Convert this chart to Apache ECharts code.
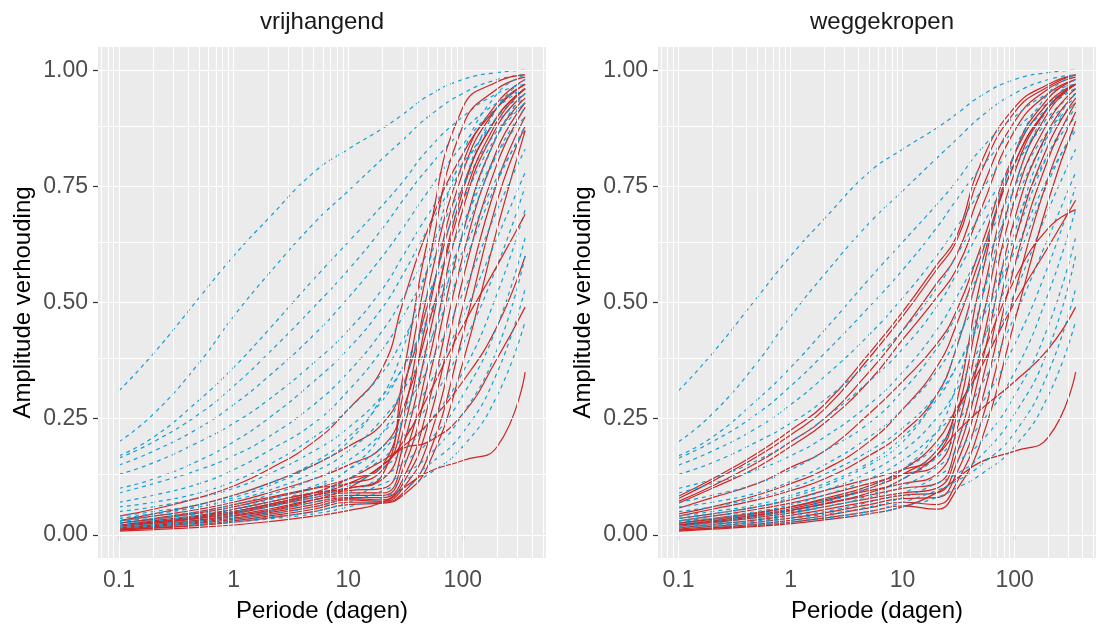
<!DOCTYPE html>
<html>
<head>
<meta charset="utf-8">
<script src="https://cdn.jsdelivr.net/npm/echarts@6/dist/echarts.min.js"></script>
<style>
  html, body { margin: 0; background: #fff; }
  #main { width: 1096px; height: 628px; }
</style>
</head>
<body>
<div id="main"></div>
<script>
const perioden = [0.1, 0.2, 0.5, 1, 2, 5, 10, 20, 30, 50, 100, 200, 350];

// blauwe (gestippelde) curves, gelijk in beide panelen
const blauw = [
  [0.31, 0.39, 0.51, 0.60, 0.68, 0.78, 0.83, 0.875, 0.905, 0.945, 0.98, 0.995, 1.0],
  [0.20, 0.26, 0.37, 0.47, 0.56, 0.67, 0.74, 0.81, 0.85, 0.90, 0.95, 0.98, 0.99],
  [0.17, 0.21, 0.29, 0.36, 0.44, 0.55, 0.63, 0.71, 0.76, 0.83, 0.90, 0.95, 0.97],
  [0.165, 0.20, 0.26, 0.32, 0.39, 0.49, 0.57, 0.66, 0.72, 0.79, 0.87, 0.93, 0.96],
  [0.15, 0.18, 0.23, 0.28, 0.34, 0.43, 0.51, 0.60, 0.66, 0.74, 0.84, 0.92, 0.96],
  [0.13, 0.155, 0.20, 0.24, 0.29, 0.37, 0.44, 0.53, 0.60, 0.69, 0.80, 0.89, 0.94],
  [0.10, 0.12, 0.16, 0.20, 0.25, 0.33, 0.40, 0.49, 0.56, 0.66, 0.79, 0.90, 0.95],
  [0.09, 0.11, 0.14, 0.17, 0.21, 0.28, 0.35, 0.44, 0.51, 0.61, 0.75, 0.87, 0.93],
  [0.07, 0.085, 0.11, 0.14, 0.18, 0.24, 0.31, 0.40, 0.47, 0.57, 0.72, 0.86, 0.93],
  [0.06, 0.07, 0.09, 0.115, 0.15, 0.21, 0.27, 0.35, 0.42, 0.52, 0.67, 0.82, 0.90],
  [0.05, 0.06, 0.08, 0.10, 0.13, 0.18, 0.23, 0.30, 0.36, 0.46, 0.61, 0.77, 0.87],
  [0.04, 0.05, 0.065, 0.085, 0.11, 0.155, 0.21, 0.29, 0.36, 0.47, 0.64, 0.82, 0.92],
  [0.035, 0.045, 0.06, 0.075, 0.095, 0.135, 0.18, 0.25, 0.31, 0.41, 0.58, 0.76, 0.88],
  [0.03, 0.04, 0.05, 0.065, 0.085, 0.12, 0.16, 0.22, 0.27, 0.36, 0.52, 0.70, 0.83],
  [0.03, 0.035, 0.045, 0.06, 0.075, 0.105, 0.14, 0.19, 0.24, 0.32, 0.47, 0.64, 0.78],
  [0.025, 0.03, 0.04, 0.05, 0.065, 0.09, 0.12, 0.165, 0.21, 0.28, 0.41, 0.58, 0.75],
  [0.025, 0.03, 0.035, 0.045, 0.06, 0.08, 0.105, 0.145, 0.18, 0.24, 0.35, 0.52, 0.70],
  [0.02, 0.025, 0.03, 0.04, 0.05, 0.07, 0.09, 0.125, 0.155, 0.20, 0.30, 0.45, 0.64],
  [0.02, 0.022, 0.028, 0.035, 0.044, 0.06, 0.08, 0.11, 0.13, 0.17, 0.26, 0.40, 0.60],
  [0.018, 0.02, 0.025, 0.03, 0.038, 0.05, 0.07, 0.095, 0.115, 0.15, 0.22, 0.35, 0.53],
  [0.015, 0.018, 0.022, 0.027, 0.034, 0.045, 0.06, 0.08, 0.10, 0.13, 0.19, 0.30, 0.46],
  [0.03, 0.035, 0.045, 0.055, 0.07, 0.10, 0.14, 0.22, 0.32, 0.50, 0.75, 0.92, 0.98],
  [0.025, 0.03, 0.04, 0.05, 0.06, 0.085, 0.12, 0.18, 0.25, 0.40, 0.65, 0.86, 0.95],
  [0.035, 0.045, 0.06, 0.08, 0.105, 0.15, 0.20, 0.30, 0.40, 0.58, 0.82, 0.95, 0.99]
];

// rode curves, paneel "vrijhangend"
const roodVrijhangend = [
  [0.04, 0.055, 0.08, 0.105, 0.14, 0.20, 0.27, 0.36, 0.50, 0.66, 0.82, 0.92, 0.97],
  [0.03, 0.045, 0.065, 0.085, 0.11, 0.15, 0.19, 0.24, 0.32, 0.50, 0.75, 0.90, 0.96],
  [0.025, 0.035, 0.05, 0.065, 0.08, 0.10, 0.11, 0.14, 0.25, 0.53, 0.80, 0.93, 0.98],
  [0.02, 0.03, 0.04, 0.055, 0.07, 0.09, 0.10, 0.12, 0.22, 0.48, 0.78, 0.92, 0.97],
  [0.02, 0.028, 0.04, 0.05, 0.065, 0.085, 0.095, 0.10, 0.19, 0.42, 0.74, 0.90, 0.96],
  [0.018, 0.025, 0.035, 0.045, 0.06, 0.08, 0.09, 0.09, 0.16, 0.37, 0.70, 0.88, 0.95],
  [0.015, 0.022, 0.032, 0.042, 0.055, 0.075, 0.085, 0.085, 0.14, 0.33, 0.65, 0.86, 0.94],
  [0.015, 0.02, 0.03, 0.04, 0.05, 0.07, 0.08, 0.08, 0.12, 0.28, 0.60, 0.83, 0.93],
  [0.012, 0.018, 0.027, 0.036, 0.047, 0.065, 0.078, 0.075, 0.11, 0.24, 0.55, 0.80, 0.92],
  [0.012, 0.017, 0.025, 0.033, 0.044, 0.06, 0.075, 0.072, 0.10, 0.20, 0.49, 0.76, 0.90],
  [0.01, 0.015, 0.022, 0.03, 0.04, 0.055, 0.07, 0.07, 0.09, 0.17, 0.43, 0.72, 0.88],
  [0.01, 0.014, 0.02, 0.027, 0.036, 0.05, 0.065, 0.068, 0.085, 0.15, 0.37, 0.66, 0.87],
  [0.03, 0.04, 0.055, 0.07, 0.09, 0.12, 0.15, 0.19, 0.27, 0.45, 0.72, 0.89, 0.96],
  [0.025, 0.033, 0.047, 0.06, 0.077, 0.10, 0.12, 0.15, 0.30, 0.58, 0.88, 0.96, 0.985],
  [0.02, 0.03, 0.042, 0.055, 0.07, 0.09, 0.10, 0.13, 0.34, 0.64, 0.92, 0.975, 0.99],
  [0.008, 0.011, 0.016, 0.021, 0.028, 0.04, 0.052, 0.07, 0.10, 0.135, 0.16, 0.19, 0.35],
  [0.015, 0.02, 0.03, 0.04, 0.052, 0.075, 0.10, 0.15, 0.186, 0.20, 0.26, 0.38, 0.49],
  [0.02, 0.027, 0.038, 0.05, 0.065, 0.09, 0.12, 0.16, 0.19, 0.24, 0.33, 0.45, 0.60],
  [0.018, 0.025, 0.036, 0.047, 0.062, 0.085, 0.11, 0.15, 0.20, 0.30, 0.45, 0.58, 0.69]
];

// rode curves, paneel "weggekropen"
const roodWeggekropen = [
  [0.083, 0.12, 0.175, 0.225, 0.28, 0.39, 0.48, 0.58, 0.64, 0.80, 0.92, 0.97, 0.99],
  [0.078, 0.115, 0.168, 0.215, 0.27, 0.38, 0.47, 0.57, 0.63, 0.78, 0.91, 0.965, 0.99],
  [0.072, 0.105, 0.155, 0.20, 0.25, 0.35, 0.44, 0.54, 0.60, 0.74, 0.89, 0.96, 0.985],
  [0.068, 0.10, 0.145, 0.19, 0.24, 0.33, 0.42, 0.51, 0.57, 0.70, 0.87, 0.95, 0.98],
  [0.057, 0.08, 0.11, 0.145, 0.18, 0.26, 0.33, 0.41, 0.48, 0.62, 0.82, 0.93, 0.97],
  [0.045, 0.06, 0.085, 0.11, 0.14, 0.20, 0.27, 0.36, 0.45, 0.60, 0.80, 0.92, 0.97],
  [0.04, 0.055, 0.075, 0.095, 0.12, 0.17, 0.22, 0.30, 0.40, 0.58, 0.80, 0.92, 0.97],
  [0.035, 0.045, 0.06, 0.075, 0.095, 0.12, 0.14, 0.17, 0.28, 0.55, 0.82, 0.94, 0.98],
  [0.03, 0.04, 0.055, 0.068, 0.085, 0.11, 0.13, 0.15, 0.25, 0.50, 0.78, 0.92, 0.97],
  [0.025, 0.035, 0.048, 0.06, 0.075, 0.095, 0.11, 0.13, 0.22, 0.45, 0.75, 0.91, 0.97],
  [0.02, 0.03, 0.042, 0.053, 0.066, 0.085, 0.10, 0.11, 0.19, 0.40, 0.72, 0.89, 0.96],
  [0.018, 0.026, 0.037, 0.047, 0.06, 0.078, 0.09, 0.10, 0.17, 0.36, 0.68, 0.87, 0.95],
  [0.015, 0.022, 0.032, 0.042, 0.054, 0.072, 0.085, 0.09, 0.15, 0.32, 0.63, 0.84, 0.94],
  [0.012, 0.018, 0.027, 0.036, 0.047, 0.065, 0.078, 0.08, 0.13, 0.28, 0.58, 0.81, 0.93],
  [0.01, 0.015, 0.023, 0.031, 0.041, 0.058, 0.07, 0.065, 0.11, 0.24, 0.52, 0.77, 0.91],
  [0.01, 0.014, 0.02, 0.027, 0.036, 0.05, 0.062, 0.055, 0.095, 0.20, 0.46, 0.72, 0.89],
  [0.008, 0.012, 0.018, 0.024, 0.032, 0.045, 0.06, 0.09, 0.12, 0.157, 0.18, 0.21, 0.35],
  [0.02, 0.028, 0.04, 0.052, 0.067, 0.09, 0.12, 0.17, 0.22, 0.27, 0.33, 0.40, 0.49],
  [0.025, 0.033, 0.046, 0.06, 0.078, 0.105, 0.14, 0.20, 0.27, 0.36, 0.50, 0.62, 0.72],
  [0.022, 0.03, 0.043, 0.056, 0.072, 0.10, 0.13, 0.18, 0.26, 0.38, 0.55, 0.66, 0.70]
];

const xTicks = [0.1, 1, 10, 100];
const yTicks = [0, 0.25, 0.5, 0.75, 1];
const xGridLines = [0.07, 0.08, 0.09, 0.1, 0.2, 0.3, 0.4, 0.5, 0.6, 0.7, 0.8, 0.9,
  1, 2, 3, 4, 5, 6, 7, 8, 9, 10, 20, 30, 40, 50, 60, 70, 80, 90, 100, 200, 300, 400, 500];
const yGridLines = [0, 0.125, 0.25, 0.375, 0.5, 0.625, 0.75, 0.875, 1];

const FONT = 'Liberation Sans, Arial, sans-serif';
const BLUE = '#139fd4';
const RED = '#cd2626';

const panels = [
  { name: 'vrijhangend', red: roodVrijhangend, left: 98 },
  { name: 'weggekropen', red: roodWeggekropen, left: 658 }
];
const panelW = 448, panelTop = 47, panelH = 513;

var chart = echarts.init(document.getElementById('main'));

const toPoints = row => row.map((v, i) => [perioden[i], v]);

const grids = [], xAxes = [], yAxes = [], titles = [], series = [];
panels.forEach((p, k) => {
  grids.push({
    left: p.left, top: panelTop, width: panelW, height: panelH,
    show: true, backgroundColor: '#ebebeb', borderWidth: 0
  });
  titles.push({
    text: p.name, left: p.left + panelW / 2, top: 10, textAlign: 'center', padding: 0,
    textStyle: { fontSize: 24, fontWeight: 'normal', color: '#1a1a1a', fontFamily: FONT }
  });
  xAxes.push({
    type: 'log', logBase: 10, gridIndex: k, min: 0.0656, max: 532,
    name: 'Periode (dagen)', nameLocation: 'middle', nameGap: 41,
    nameTextStyle: { fontSize: 24, color: '#000', fontFamily: FONT },
    axisLine: { show: false },
    axisTick: { show: true, length: 5, customValues: xTicks, lineStyle: { color: '#333', width: 1.2 } },
    axisLabel: { customValues: xTicks, margin: 11, fontSize: 23, color: '#4d4d4d', fontFamily: FONT,
      formatter: v => String(+Number(v).toPrecision(3)) },
    splitLine: { show: false }, minorSplitLine: { show: false }
  });
  yAxes.push({
    type: 'value', gridIndex: k, min: -0.05, max: 1.05,
    name: 'Amplitude verhouding', nameLocation: 'middle', nameGap: 63, nameRotate: 90,
    nameTextStyle: { fontSize: 24, color: '#000', fontFamily: FONT },
    axisLine: { show: false },
    axisTick: { show: true, length: 5, customValues: yTicks, lineStyle: { color: '#333', width: 1.2 } },
    axisLabel: { customValues: yTicks, margin: 10, fontSize: 23, color: '#4d4d4d', fontFamily: FONT,
      formatter: v => Number(v).toFixed(2) },
    splitLine: { show: false }
  });
  // witte rasterlijnen
  series.push({
    type: 'line', xAxisIndex: k, yAxisIndex: k, data: [], z: 1, silent: true,
    markLine: {
      silent: true, symbol: ['none', 'none'], animation: false,
      label: { show: false },
      lineStyle: { color: '#ffffff', width: 1.1, type: 'solid' },
      data: xGridLines.map(v => ({ xAxis: v })).concat(yGridLines.map(v => ({ yAxis: v })))
    }
  });
  const n = Math.max(p.red.length, blauw.length);
  for (let i = 0; i < n; i++) {
    if (i < p.red.length) {
      series.push({
        type: 'line', xAxisIndex: k, yAxisIndex: k, data: toPoints(p.red[i]), z: 2,
        showSymbol: false, smooth: 0.5, silent: true,
        lineStyle: { color: RED, width: 1.2 }
      });
    }
    if (i < blauw.length) {
      series.push({
        type: 'line', xAxisIndex: k, yAxisIndex: k, data: toPoints(blauw[i]), z: 2,
        showSymbol: false, smooth: 0.5, silent: true,
        lineStyle: { color: BLUE, width: 1.2, type: [4, 4] }
      });
    }
  }
});

const option = {
  backgroundColor: '#ffffff',
  animation: false,
  title: titles,
  grid: grids,
  xAxis: xAxes,
  yAxis: yAxes,
  series: series
};
chart.setOption(option);
</script>
</body>
</html>
